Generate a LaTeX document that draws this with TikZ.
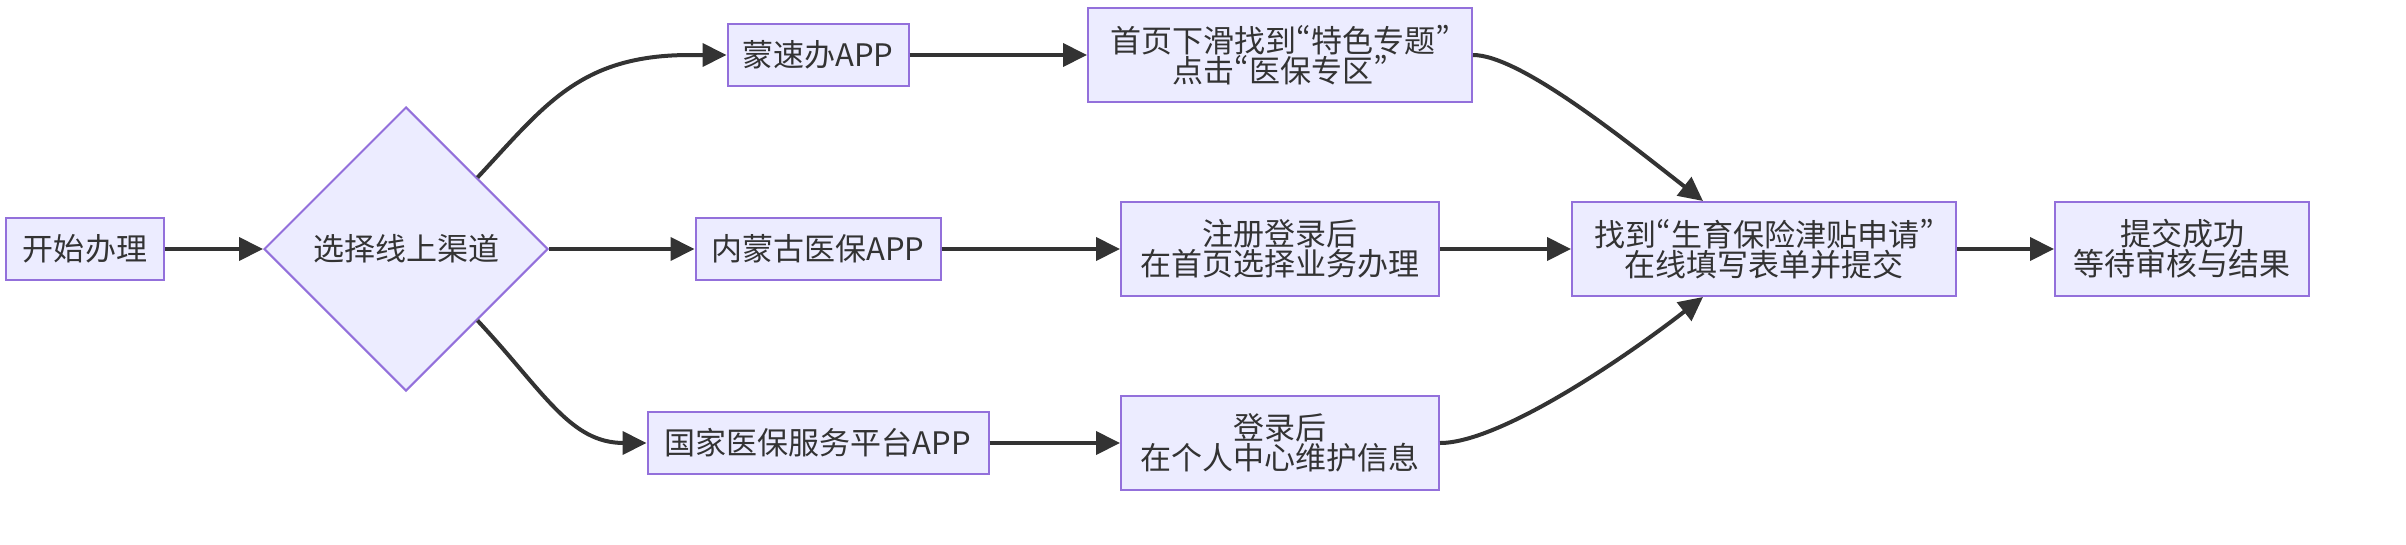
\documentclass[tikz,border=0pt]{standalone}
\usepackage{fontspec}
\setmainfont{Noto Sans CJK SC}[RawFeature=+pwid]
\usetikzlibrary{shapes.geometric,arrows.meta}
\definecolor{nodefill}{HTML}{ECECFF}
\definecolor{nodeline}{HTML}{9370DB}
\definecolor{ink}{HTML}{333333}
\begin{document}
\begin{tikzpicture}[x=1pt,y=-1pt,
  box/.style={draw=nodeline, fill=nodefill, line width=2pt, text=ink, align=center,
    inner sep=0pt, font=\fontsize{31}{30}\selectfont},
  decision/.style={diamond, draw=nodeline, fill=nodefill, line width=2pt, text=ink,
    inner sep=0pt, minimum width=284pt, minimum height=284pt, font=\fontsize{31}{30}\selectfont},
  link/.style={draw=ink, line width=4pt, -{Triangle[length=24pt,width=23pt]}}]
\useasboundingbox (0,0) rectangle (2406,544);

\node[box, minimum width=158pt, minimum height=62pt] (start) at (85,249) {开始办理};
\node[decision] (dec) at (406,249) {选择线上渠道};
\node[box, minimum width=181pt, minimum height=62pt] (ms) at (818,55) {蒙速办APP};
\node[box, minimum width=245pt, minimum height=62pt] (nm) at (818,249) {内蒙古医保APP};
\node[box, minimum width=341pt, minimum height=62pt] (gj) at (818,443) {国家医保服务平台APP};
\node[box, minimum width=384pt, minimum height=94pt] (sy) at (1280,55) {首页下滑找到“特色专题”\\点击“医保专区”};
\node[box, minimum width=318pt, minimum height=94pt] (zc) at (1280,249) {注册登录后\\在首页选择业务办理};
\node[box, minimum width=318pt, minimum height=94pt] (dl) at (1280,443) {登录后\\在个人中心维护信息};
\node[box, minimum width=384pt, minimum height=94pt] (zd) at (1764,249) {找到“生育保险津贴申请”\\在线填写表单并提交};
\node[box, minimum width=254pt, minimum height=94pt] (tj) at (2182,249) {提交成功\\等待审核与结果};

\draw[link] (start) -- (dec);
\draw[link] (dec.45) .. controls (545,105) and (580,55) .. (690,55) -- (ms.west);
\draw[link] (dec) -- (nm);
\draw[link] (dec.-45) .. controls (545,393) and (570,443) .. (624,443) -- (gj.west);
\draw[link] (ms) -- (sy);
\draw[link] (nm) -- (zc);
\draw[link] (gj) -- (dl);
\draw[link] (sy.east) .. controls (1520,55) and (1626,141) .. ([xshift=-61pt]zd.north);
\draw[link] (zc) -- (zd);
\draw[link] (dl.east) .. controls (1500,443) and (1626,357) .. ([xshift=-61pt]zd.south);
\draw[link] (zd) -- (tj);
\end{tikzpicture}
\end{document}
